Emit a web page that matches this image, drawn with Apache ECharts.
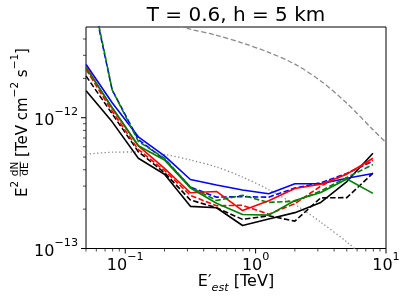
<!DOCTYPE html>
<html>
<head>
<meta charset="utf-8">
<script src="https://cdn.jsdelivr.net/npm/echarts@6/dist/echarts.min.js"></script>
<style>
html,body{margin:0;padding:0;background:#fff;}
#chart{width:407px;height:300px;}
</style>
</head>
<body>
<div id="chart"></div>
<script>
// ---- data ----
var energy = [0.0501, 0.0794, 0.126, 0.2, 0.316, 0.501, 0.794, 1.26, 2.0, 3.16, 5.01, 7.94];
var blackSolid  = [1.61e-12, 9.3e-13, 4.9e-13, 3.7e-13, 2.1e-13, 2.05e-13, 1.5e-13, 1.68e-13, 1.88e-13, 2.25e-13, 3.25e-13, 5.35e-13];
var blackDashed = [2.08e-12, 1.07e-12, 5.5e-13, 3.8e-13, 2.35e-13, 2.05e-13, 1.67e-13, 1.78e-13, 1.62e-13, 2.44e-13, 2.45e-13, 3.77e-13];
var redSolid    = [2.45e-12, 1.18e-12, 6.1e-13, 4.1e-13, 2.67e-13, 2.73e-13, 1.95e-13, 2.32e-13, 2.88e-13, 3.1e-13, 3.7e-13, 4.9e-13];
var redDashed   = [2.34e-12, 1.12e-12, 5.7e-13, 3.95e-13, 2.55e-13, 2.12e-13, 2.14e-13, 1.83e-13, 2.2e-13, 3.0e-13, 3.75e-13, 4.72e-13];
var blueSolid   = [2.55e-12, 1.3e-12, 7.15e-13, 5.1e-13, 3.37e-13, 3.06e-13, 2.8e-13, 2.62e-13, 3.13e-13, 3.13e-13, 3.44e-13, 3.75e-13];
var blueDashed  = [1.4e-11, 1.63e-12, 6.8e-13, 4.8e-13, 2.95e-13, 2.47e-13, 2.49e-13, 2.47e-13, 2.9e-13, 3.18e-13, 3.75e-13, 4.65e-13];
var greenSolid  = [2.4e-12, 1.2e-12, 6.1e-13, 4.75e-13, 2.9e-13, 2.22e-13, 1.82e-13, 1.8e-13, 2.33e-13, 2.68e-13, 3.4e-13, 2.64e-13];
var greenDashed = [1.5e-11, 1.63e-12, 6.6e-13, 4.9e-13, 2.95e-13, 2.33e-13, 2.55e-13, 2.25e-13, 2.3e-13, 2.75e-13, 3.5e-13, 4.38e-13];

var refEnergy = [0.2, 0.316, 0.501, 0.794, 1.26, 2.0, 3.16, 5.01, 7.94, 10];
var refDashed = [5.37e-12, 4.75e-12, 4.27e-12, 3.72e-12, 3.16e-12, 2.57e-12, 1.91e-12, 1.29e-12, 8.1e-13, 6.46e-13];
var refDottedEnergy = [0.0501, 0.0794, 0.126, 0.2, 0.316, 0.501, 0.794, 1.26, 2.0, 3.16, 5.01, 7.94];
var refDotted = [5.25e-13, 5.45e-13, 5.47e-13, 5.24e-13, 4.75e-13, 4.2e-13, 3.52e-13, 2.82e-13, 2.17e-13, 1.59e-13, 1.12e-13, 7.5e-14];

var xMajorTicks = [0.1, 1, 10];
var xMinorTicks = [0.05, 0.06, 0.07, 0.08, 0.09, 0.2, 0.3, 0.4, 0.5, 0.6, 0.7, 0.8, 0.9, 2, 3, 4, 5, 6, 7, 8, 9];
var yMajorTicks = [1e-13, 1e-12];
var yMinorTicks = [2e-13, 3e-13, 4e-13, 5e-13, 6e-13, 7e-13, 8e-13, 9e-13, 2e-12, 3e-12, 4e-12];

var titleText = 'T = 0.6, h = 5 km';
var X_MIN = 0.05, X_MAX = 10, Y_MIN = 1e-13, Y_MAX = 4.94e-12;

// ---- chart ----
var FONT = 'DejaVu Sans';
function pairs(xs, ys){ return xs.map(function(x,i){ return [x, ys[i]]; }); }
function sup(n){ return String(n).replace('-', '\u2212'); }
function logLabel(v){
  var l = Math.log10(v), r = Math.round(l);
  if (Math.abs(l - r) > 1e-6) return '';
  return '{b|10}{s|' + sup(r) + '}';
}
var richTick = {
  b: {fontFamily: FONT, fontSize: 16, lineHeight: 22, verticalAlign: 'bottom', color: '#000'},
  s: {fontFamily: FONT, fontSize: 11.2, lineHeight: 12, verticalAlign: 'top', color: '#000'}
};
var richLab = {
  b: {fontFamily: FONT, fontSize: 15, lineHeight: 21, verticalAlign: 'bottom', color: '#000'},
  s: {fontFamily: FONT, fontSize: 10.5, lineHeight: 12, verticalAlign: 'top', color: '#000'}
};
var solidLW = 1.6, dash = [5.5, 2.4];
function lineSeries(name, data, color, dashed){
  return {name: name, type: 'line', data: pairs(energy, data), showSymbol: false, symbol: 'none',
    lineStyle: {color: color, width: solidLW, type: dashed ? dash : 'solid'}, z: 3, silent: true};
}
var tickData = [];
xMajorTicks.forEach(function(v){ tickData.push([v, Y_MIN, 0]); });
xMinorTicks.forEach(function(v){ tickData.push([v, Y_MIN, 1]); });
yMajorTicks.forEach(function(v){ tickData.push([X_MIN, v, 2]); });
yMinorTicks.forEach(function(v){ tickData.push([X_MIN, v, 3]); });

var chart = echarts.init(document.getElementById('chart'), null, {renderer: 'canvas'});
var option = {
  animation: false,
  backgroundColor: '#fff',
  grid: {left: 86, top: 27, width: 300, height: 221.5, show: true, borderColor: '#000', borderWidth: 1, backgroundColor: 'transparent'},
  xAxis: {type: 'log', logBase: 10, min: X_MIN, max: X_MAX,
    axisLine: {show: false}, axisTick: {show: false}, splitLine: {show: false}, minorTick: {show: false},
    axisLabel: {formatter: logLabel, rich: richTick, margin: 3, showMinLabel: true, showMaxLabel: true}},
  yAxis: {type: 'log', logBase: 10, min: Y_MIN, max: Y_MAX,
    axisLine: {show: false}, axisTick: {show: false}, splitLine: {show: false}, minorTick: {show: false},
    axisLabel: {formatter: logLabel, rich: richTick, margin: 8}},
  series: [
    {type: 'line', data: pairs(refEnergy, refDashed), showSymbol: false, symbol: 'none', smooth: 0.3,
      lineStyle: {color: '#8a8a8a', width: 1.3, type: [5, 2.6]}, z: 2, silent: true},
    {type: 'line', data: pairs(refDottedEnergy, refDotted), showSymbol: false, symbol: 'none', smooth: 0.3,
      lineStyle: {color: '#8a8a8a', width: 1.3, type: [1.3, 2.4]}, z: 2, silent: true},
    lineSeries('black', blackSolid, '#000000', false),
    lineSeries('black--', blackDashed, '#000000', true),
    lineSeries('blue', blueSolid, '#0000ff', false),
    lineSeries('blue--', blueDashed, '#0000ff', true),
    lineSeries('red', redSolid, '#ff0000', false),
    lineSeries('red--', redDashed, '#ff0000', true),
    lineSeries('green', greenSolid, '#008000', false),
    lineSeries('green--', greenDashed, '#008000', true),
    {type: 'custom', data: tickData, clip: false, silent: true, z: 10,
      renderItem: function(params, api){
        var kind = api.value(2);
        var p = api.coord([api.value(0), api.value(1)]);
        var len = (kind === 0 || kind === 2) ? 5 : 3;
        var shape = kind < 2 ? {x1: p[0], y1: p[1], x2: p[0], y2: p[1] + len}
                             : {x1: p[0] - len, y1: p[1], x2: p[0], y2: p[1]};
        return {type: 'line', shape: shape, style: {stroke: '#000', lineWidth: (kind % 2 === 0) ? 1 : 0.7}};
      }}
  ],
  graphic: [
    {type: 'text', x: 236, y: 16, style: {text: titleText, font: '20px "DejaVu Sans"', fill: '#000', align: 'center', verticalAlign: 'middle'}},
    {type: 'text', x: 236, y: 284, style: {
      text: '{b|E\u2032}{sub|est}{b| [TeV]}', align: 'center', verticalAlign: 'middle',
      rich: {
        b: {fontFamily: FONT, fontSize: 16, lineHeight: 20, verticalAlign: 'top', color: '#000'},
        sub: {fontFamily: FONT, fontSize: 11.2, fontStyle: 'italic', lineHeight: 12, verticalAlign: 'bottom', color: '#000'}
      }}},
    {type: 'group', x: 25, y: 197, rotation: Math.PI / 2, children: [
      {type: 'text', x: 0, y: -4.5, style: {text: '{b|E}{s|2}', align: 'left', verticalAlign: 'middle', rich: richLab}},
      {type: 'text', x: 28, y: -9.5, style: {text: 'dN', font: '10.5px "DejaVu Sans"', fill: '#000', align: 'center', verticalAlign: 'middle'}},
      {type: 'line', shape: {x1: 20.5, y1: -4.8, x2: 35.5, y2: -4.8}, style: {stroke: '#000', lineWidth: 0.8}},
      {type: 'text', x: 28, y: 0.5, style: {text: 'dE', font: '10.5px "DejaVu Sans"', fill: '#000', align: 'center', verticalAlign: 'middle'}},
      {type: 'text', x: 40, y: -4.5, style: {text: '{b|[TeV cm}{s|\u22122}{b| s}{s|\u22121}{b|]}', align: 'left', verticalAlign: 'middle', rich: richLab}}
    ]}
  ]
};
chart.setOption(option);
</script>
</body>
</html>
